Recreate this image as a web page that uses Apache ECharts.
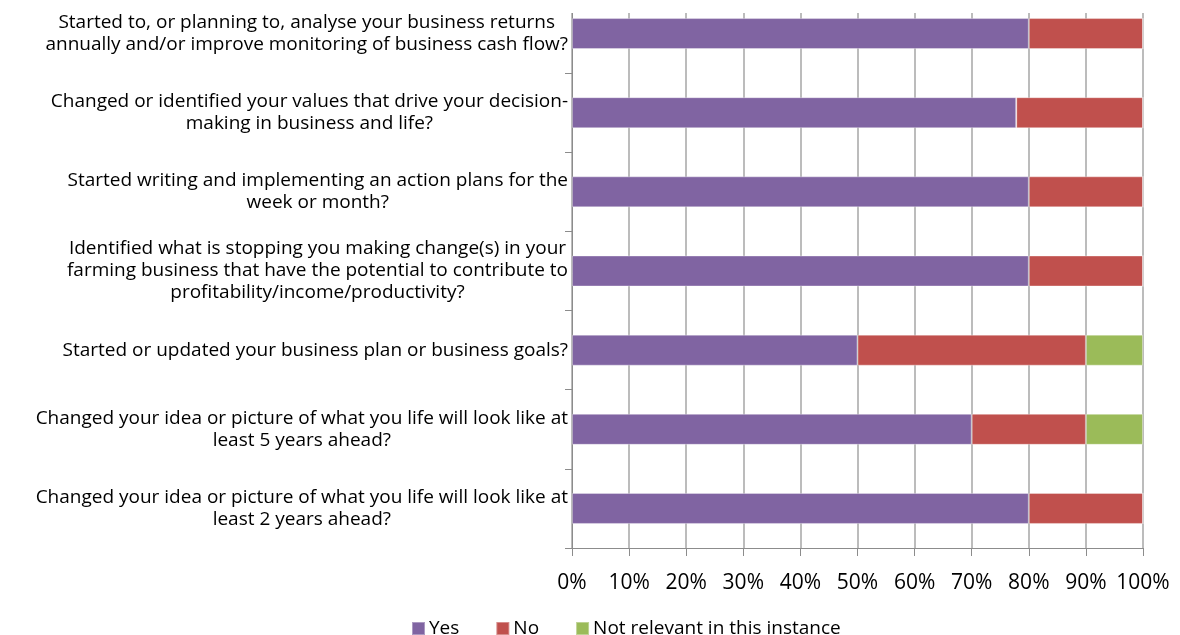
<!DOCTYPE html>
<html>
<head>
<meta charset="utf-8">
<script src="https://cdn.jsdelivr.net/npm/echarts@6/dist/echarts.min.js"></script>
<style>
  html, body { margin: 0; padding: 0; background: #ffffff; }
  #chart { width: 1180px; height: 635px; }
</style>
</head>
<body>
<div id="chart"></div>
<script>
// Survey questions, top to bottom (each entry is the wrapped label lines)
const questions = [
  ['Started to, or planning to, analyse your business returns', 'annually and/or improve monitoring of business cash flow?'],
  ['Changed or identified your values that drive your decision-', 'making in business and life?'],
  ['Started writing and implementing an action plans for the', 'week or month?'],
  ['Identified what is stopping you making change(s) in your', 'farming business that have the potential to contribute to', 'profitability/income/productivity?'],
  ['Started or updated your business plan or business goals?'],
  ['Changed your idea or picture of what you life will look like at', 'least 5 years ahead?'],
  ['Changed your idea or picture of what you life will look like at', 'least 2 years ahead?']
];

// Share of responses (%) per question
const yesValues = [80, 77.8, 80, 80, 50, 70, 80];
const noValues = [20, 22.2, 20, 20, 40, 20, 20];
const notRelevantValues = [0, 0, 0, 0, 10, 10, 0];

const seriesNames = ['Yes', 'No', 'Not relevant in this instance'];
const seriesColors = ['#8064A2', '#C0504D', '#9BBB59'];

const categories = questions.map(lines => lines.join('\n'));
const FONT = 'Open Sans';

const chart = echarts.init(document.getElementById('chart'), null, { renderer: 'canvas' });

function barSeries(name, values, color) {
  return {
    name: name,
    type: 'bar',
    stack: 'total',
    barWidth: 31,
    data: values,
    itemStyle: { color: color, borderColor: 'rgba(255,255,255,0.35)', borderWidth: 1 }
  };
}

chart.setOption({
  animation: false,
  textStyle: { fontFamily: FONT },
  grid: {
    left: 572, right: 37, top: -6, bottom: 87,
    containLabel: false,
    outerBoundsMode: 'none'
  },
  legend: {
    data: seriesNames,
    top: 614,
    left: 406,
    itemWidth: 13,
    itemHeight: 13,
    itemGap: 36,
    icon: 'rect',
    textStyle: { fontFamily: FONT, fontSize: 19, color: '#000', padding: [0, 0, 0, -1] }
  },
  xAxis: {
    type: 'value',
    min: 0,
    max: 100,
    interval: 10,
    axisLine: { show: true, lineStyle: { color: '#8c8c8c', width: 1 } },
    axisTick: { show: true, length: 8, lineStyle: { color: '#8c8c8c' } },
    axisLabel: {
      formatter: '{value}%',
      margin: 25,
      fontSize: 21,
      color: '#000',
      fontFamily: FONT
    },
    splitLine: { show: true, lineStyle: { color: '#a6a6a6', width: 1.5 } }
  },
  yAxis: {
    type: 'category',
    inverse: true,
    data: categories,
    axisLine: { show: true, lineStyle: { color: '#8c8c8c', width: 1 } },
    axisTick: { show: true, length: 7, lineStyle: { color: '#8c8c8c' } },
    axisLabel: {
      margin: 4,
      color: '#000',
      fontFamily: FONT,
      fontSize: 19,
      lineHeight: 22,
      formatter: function (value) {
        return value.split('\n').map(line => '{c|' + line + '}').join('\n');
      },
      rich: {
        c: { align: 'center', fontFamily: FONT, fontSize: 19, lineHeight: 22, color: '#000' }
      }
    },
    splitLine: { show: false }
  },
  graphic: [
    {
      type: 'rect',
      z: 100,
      shape: { x: 560, y: 0, width: 620, height: 13 },
      style: { fill: '#ffffff' }
    }
  ],
  series: [
    barSeries(seriesNames[0], yesValues, seriesColors[0]),
    barSeries(seriesNames[1], noValues, seriesColors[1]),
    barSeries(seriesNames[2], notRelevantValues, seriesColors[2])
  ]
});
</script>
</body>
</html>
